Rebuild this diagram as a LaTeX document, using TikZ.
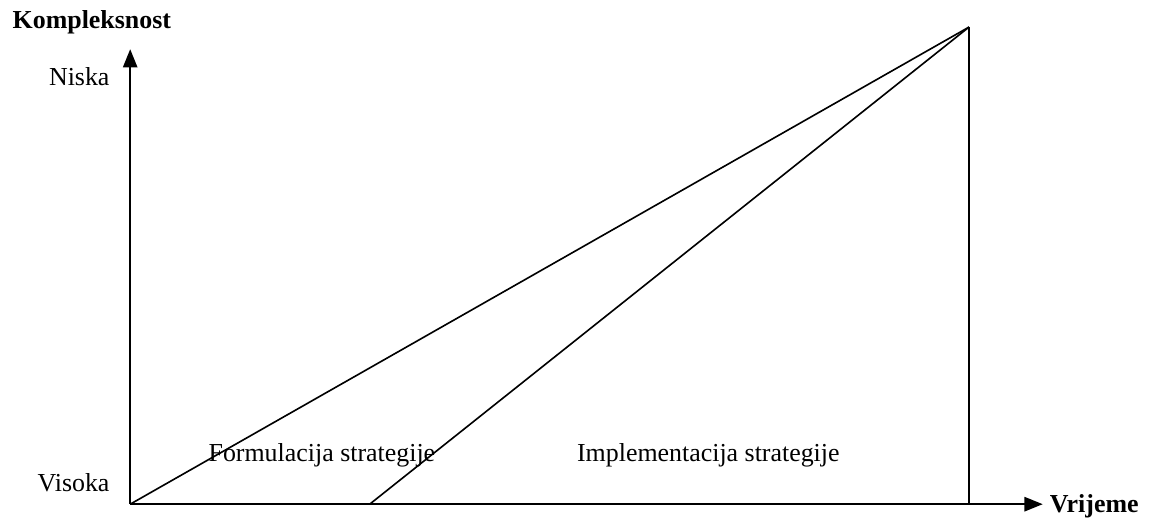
\documentclass[tikz,border=0pt]{standalone}
\usepackage{fontspec}
\setmainfont{Liberation Serif}
\usetikzlibrary{arrows.meta}
\tikzset{
  axis/.style={line width=1pt, -{Triangle[length=8.5pt,width=6.6pt]}},
  edge/.style={line width=0.75pt},
  lbl/.style={inner sep=0pt, font=\fontsize{12}{14}\selectfont},
}

\begin{document}
\begin{tikzpicture}
      \useasboundingbox (0,0) rectangle (18.71,8.42);
      \coordinate (O) at (2.12, 0.21);
      \coordinate (ytip) at (2.12, 7.62);
      \coordinate (xtip) at (16.98, 0.21);
      \coordinate (apex) at (15.78, 7.98);
      \coordinate (foot) at (15.78, 0.21);
      \coordinate (start) at (6.02, 0.21);
      \node[lbl, anchor=base west, font=\fontsize{12}{14}\selectfont\bfseries] (kompl) at (0.20, 7.96) {Kompleksnost};
      \node[lbl, anchor=base east] (niska) at (1.79, 7.03) {Niska};
      \node[lbl, anchor=base east] (visoka) at (1.79, 0.41) {Visoka};
      \node[lbl, anchor=base west, font=\fontsize{12}{14}\selectfont\bfseries] (vrijeme) at (17.09, 0.08) {Vrijeme};
      \node[lbl, anchor=base west] (form) at (3.39, 0.90) {Formulacija strategije};
      \node[lbl, anchor=base west] (impl) at (9.39, 0.90) {Implementacija strategije};
      \draw[edge] (O) -- (apex);
      \draw[edge] (start) -- (apex);
      \draw[edge] (apex) -- (foot);
      \draw[axis] (O) -- (ytip);
      \draw[axis] (O) -- (xtip);
    \end{tikzpicture}
\end{document}
